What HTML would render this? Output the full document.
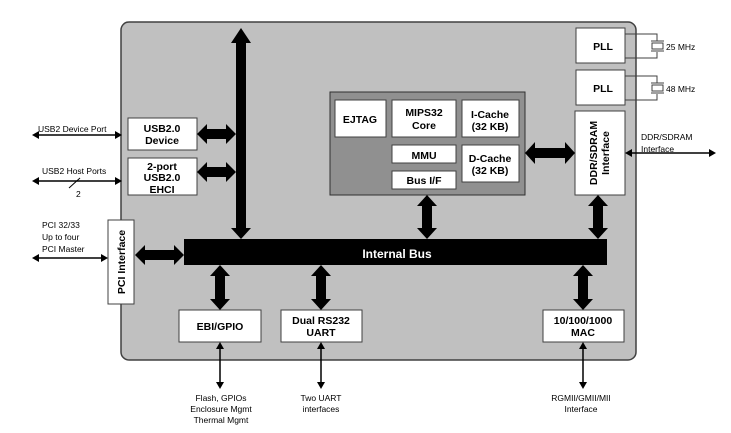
<!DOCTYPE html>
<html><head><meta charset="utf-8"><style>
html,body{margin:0;padding:0;background:#fff;}
svg{display:block;}
text{font-family:"Liberation Sans",Arial,sans-serif;}
.b{font-weight:bold;font-size:10.5px;fill:#000;text-anchor:middle;}
.s{font-size:8.5px;fill:#000;}
</style></head><body>
<svg width="731" height="433" viewBox="0 0 731 433" xmlns="http://www.w3.org/2000/svg">
<rect x="121" y="22" width="515" height="338" rx="8" fill="#c0c0c0" stroke="#404040" stroke-width="1.5"/>
<rect x="330" y="92" width="195" height="103" fill="#909090" stroke="#303030" stroke-width="1"/>
<g fill="#fff" stroke="#404040" stroke-width="1">
<rect x="335" y="100" width="51" height="37"/>
<rect x="392" y="100" width="64" height="37"/>
<rect x="462" y="100" width="57" height="37"/>
<rect x="392" y="145" width="64" height="18"/>
<rect x="392" y="171" width="64" height="18"/>
<rect x="462" y="145" width="57" height="37"/>
<rect x="576" y="28" width="49" height="35"/>
<rect x="576" y="70" width="49" height="35"/>
<rect x="575" y="111" width="50" height="84"/>
<rect x="128" y="118" width="69" height="32"/>
<rect x="128" y="158" width="69" height="37"/>
<rect x="108" y="220" width="26" height="84"/>
<rect x="179" y="310" width="82" height="32"/>
<rect x="281" y="310" width="81" height="32"/>
<rect x="543" y="310" width="81" height="32"/>
</g>
<text class="b" x="360" y="123">EJTAG</text>
<text class="b" x="424" y="116">MIPS32</text><text class="b" x="424" y="129">Core</text>
<text class="b" x="490" y="118">I-Cache</text><text class="b" x="490" y="130">(32 KB)</text>
<text class="b" x="424" y="159">MMU</text>
<text class="b" x="424" y="184">Bus I/F</text>
<text class="b" x="490" y="162">D-Cache</text><text class="b" x="490" y="174">(32 KB)</text>
<text class="b" x="603" y="50">PLL</text>
<text class="b" x="603" y="92">PLL</text>
<text class="b" transform="translate(597,153) rotate(-90)">DDR/SDRAM</text>
<text class="b" transform="translate(609,153) rotate(-90)">Interface</text>
<text class="b" x="162" y="132">USB2.0</text><text class="b" x="162" y="144">Device</text>
<text class="b" x="162" y="170">2-port</text><text class="b" x="162" y="181">USB2.0</text><text class="b" x="162" y="193">EHCI</text>
<text class="b" transform="translate(125,262) rotate(-90)">PCI Interface</text>
<text class="b" x="220" y="330">EBI/GPIO</text>
<text class="b" x="321" y="324">Dual RS232</text><text class="b" x="321" y="336">UART</text>
<text class="b" x="583" y="324">10/100/1000</text><text class="b" x="583" y="336">MAC</text>
<rect x="184" y="239" width="423" height="26" fill="#000"/>
<text class="b" x="397" y="258" style="fill:#fff;font-size:12px">Internal Bus</text>
<g fill="#000">
<polygon points="241,28 251,43 246,43 246,228 251,228 241,239 231,228 236,228 236,43 231,43"/>
<polygon points="197,134 207,124 207,129 226,129 226,124 236,134 226,144 226,139 207,139 207,144"/>
<polygon points="197,172 207,162 207,167 226,167 226,162 236,172 226,182 226,177 207,177 207,182"/>
<polygon points="135,255 145,245 145,250 174,250 174,245 184,255 174,265 174,260 145,260 145,265"/>
<polygon points="525,153 535,142 535,148 565,148 565,142 575,153 565,164 565,158 535,158 535,164"/>
<polygon points="427,195 437,206 432,206 432,228 437,228 427,239 417,228 422,228 422,206 417,206"/>
<polygon points="598,195 608,206 603,206 603,228 608,228 598,239 588,228 593,228 593,206 588,206"/>
<polygon points="220,265 230,276 225,276 225,299 230,299 220,310 210,299 215,299 215,276 210,276"/>
<polygon points="321,265 331,276 326,276 326,299 331,299 321,310 311,299 316,299 316,276 311,276"/>
<polygon points="583,265 593,276 588,276 588,299 593,299 583,310 573,299 578,299 578,276 573,276"/>
</g>
<g stroke="#000" stroke-width="1.5" fill="none">
<line x1="36" y1="135" x2="118" y2="135"/>
<line x1="36" y1="181" x2="118" y2="181"/>
<line x1="36" y1="258" x2="105" y2="258"/>
<line x1="628" y1="153" x2="712" y2="153"/>
<line x1="220" y1="345" x2="220" y2="385"/>
<line x1="321" y1="345" x2="321" y2="385"/>
<line x1="583" y1="345" x2="583" y2="385"/>
<line x1="69" y1="188" x2="80" y2="178" stroke-width="1"/>
</g>
<g fill="#000">
<polygon points="32,135 39,131 39,139"/><polygon points="122,135 115,131 115,139"/>
<polygon points="32,181 39,177 39,185"/><polygon points="122,181 115,177 115,185"/>
<polygon points="32,258 39,254 39,262"/><polygon points="108,258 101,254 101,262"/>
<polygon points="625,153 632,149 632,157"/><polygon points="716,153 709,149 709,157"/>
<polygon points="220,342 216,349 224,349"/><polygon points="220,389 216,382 224,382"/>
<polygon points="321,342 317,349 325,349"/><polygon points="321,389 317,382 325,382"/>
<polygon points="583,342 579,349 587,349"/><polygon points="583,389 579,382 587,382"/>
</g>
<g stroke="#404040" stroke-width="1" fill="none">
<polyline points="625,34 657,34 657,41"/><polyline points="625,58 657,58 657,52"/>
<line x1="651" y1="41" x2="664" y2="41"/><rect x="652" y="43" width="11" height="6"/><line x1="651" y1="51" x2="664" y2="51"/>
<polyline points="625,76 657,76 657,83"/><polyline points="625,100 657,100 657,94"/>
<line x1="651" y1="83" x2="664" y2="83"/><rect x="652" y="85" width="11" height="6"/><line x1="651" y1="93" x2="664" y2="93"/>
</g>
<text class="s" x="666" y="50">25 MHz</text>
<text class="s" x="666" y="92">48 MHz</text>
<text class="s" x="38" y="132">USB2 Device Port</text>
<text class="s" x="42" y="174">USB2 Host Ports</text>
<text class="s" x="76" y="197">2</text>
<text class="s" x="42" y="228">PCI 32/33</text>
<text class="s" x="42" y="240">Up to four</text>
<text class="s" x="42" y="252">PCI Master</text>
<text class="s" x="641" y="140">DDR/SDRAM</text>
<text class="s" x="641" y="152">Interface</text>
<text class="s" x="221" y="401" text-anchor="middle">Flash, GPIOs</text>
<text class="s" x="221" y="412" text-anchor="middle">Enclosure Mgmt</text>
<text class="s" x="221" y="423" text-anchor="middle">Thermal Mgmt</text>
<text class="s" x="321" y="401" text-anchor="middle">Two UART</text>
<text class="s" x="321" y="412" text-anchor="middle">interfaces</text>
<text class="s" x="581" y="401" text-anchor="middle">RGMII/GMII/MII</text>
<text class="s" x="581" y="412" text-anchor="middle">Interface</text>
</svg>
</body></html>
